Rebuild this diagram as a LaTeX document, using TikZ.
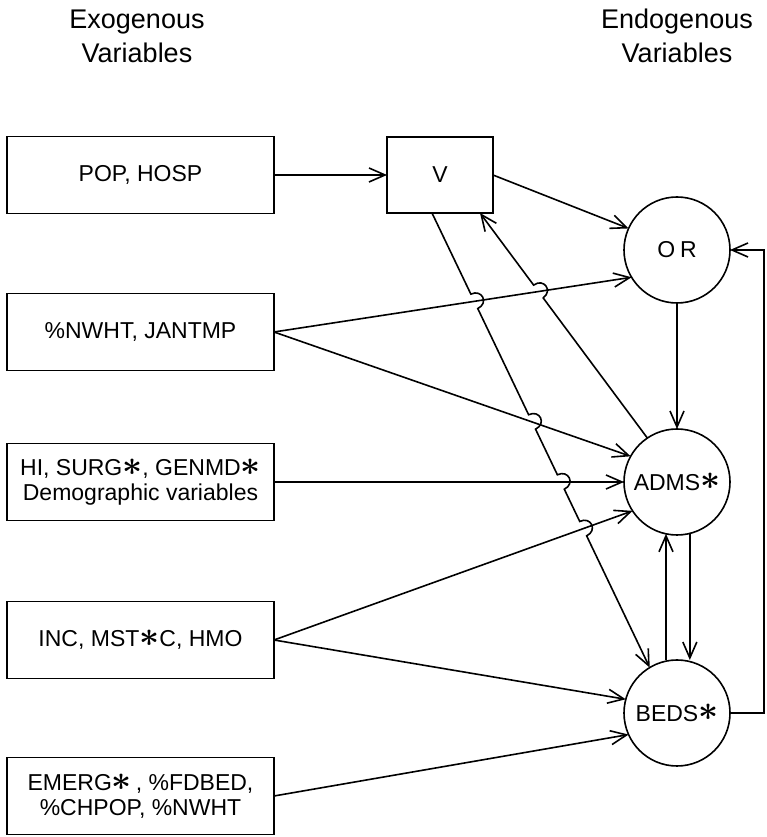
\documentclass[tikz,border=0pt]{standalone}
\usepackage{fontspec}
\setmainfont{Liberation Sans}
\usetikzlibrary{arrows.meta,calc,intersections}
\newcommand{\mstar}{\raisebox{0.02em}{\scalebox{1.4}{\boldmath$\ast$}}}
\begin{document}
\begin{tikzpicture}[x=1pt,y=1pt,line width=1.6pt,inner sep=0pt,outer sep=0pt,
>={Straight Barb[length=16pt,width=14pt]},
varbox/.style={draw,rectangle,minimum width=267pt,minimum height=77pt,align=center,font=\fontsize{23}{25}\selectfont},
endo/.style={draw,circle,minimum size=106pt,font=\fontsize{23}{25}\selectfont},
hdr/.style={align=center,font=\fontsize{27}{34}\selectfont},
hop/.style={bend left=90,looseness=2}]
\useasboundingbox (0,0) rectangle (766,837);
\draw (137,801) node[hdr] (exohdr) {Exogenous\\Variables};
\draw (677,801) node[hdr] (endohdr) {Endogenous\\Variables};
\draw (140.5,662) node[varbox] (pop) {POP, HOSP};
\draw (140.5,505) node[varbox] (nwht) {\%NWHT, JANTMP};
\draw (140.5,355) node[varbox] (hi) {HI, SURG\mstar, GENMD\mstar\\Demographic variables};
\draw (140.5,197) node[varbox] (inc) {INC, MST\mstar C, HMO};
\draw (140.5,41) node[varbox] (emerg) {EMERG\mstar\,, \%FDBED,\\\%CHPOP, \%NWHT};
\draw (440,662) node[draw,rectangle,minimum width=106pt,minimum height=76pt,font=\fontsize{23}{25}\selectfont] (V) {V};
\draw (677,587) node[endo] (OR) {O\kern5pt R};
\draw (677,355) node[endo] (ADMS) {ADMS\mstar};
\draw (677,124) node[endo] (BEDS) {BEDS\mstar};
\draw[->] (pop) -- (V);
\draw[->] (V.east) -- (OR.156);
\draw[->,name path=nwor] (nwht.east) -- (OR.211);
\draw[->,name path=nwad] (nwht.east) -- (ADMS.151);
\draw[->,name path=hiad] (hi.east) -- (ADMS.west);
\draw[->,name path=incad] (inc.east) -- (ADMS.213);
\draw[->] (inc.east) -- (BEDS.165);
\draw[->] (emerg.east) -- (BEDS.204);
\draw[->] (OR) -- (ADMS);
\draw[->] (ADMS.258 |- BEDS.north) -- (ADMS.258);
\draw[->] (ADMS.-76) -- (ADMS.-76 |- BEDS.north);
\draw[->] (BEDS.east) -- ++(34,0) |- (OR.east);
\coordinate (vl) at ([xshift=-8pt]V.south);
\coordinate (vr) at ([xshift=40pt]V.south);
\path[name path=vbeds] (vl) -- (BEDS.121);
\path[name path=vadms] (vr) -- (ADMS.124);
\path[name intersections={of=vbeds and nwor,by=h1}];
\path[name intersections={of=vbeds and nwad,by=h2}];
\path[name intersections={of=vbeds and hiad,by=h3}];
\path[name intersections={of=vbeds and incad,by=h4}];
\path[name intersections={of=vadms and nwor,by=h5}];
\draw[->] (vl) -- ($(h1)!8pt!(vl)$) to[hop] ($(h1)!8pt!(BEDS.121)$)
  -- ($(h2)!8pt!(vl)$) to[hop] ($(h2)!8pt!(BEDS.121)$)
  -- ($(h3)!8pt!(vl)$) to[hop] ($(h3)!8pt!(BEDS.121)$)
  -- ($(h4)!8pt!(vl)$) to[hop] ($(h4)!8pt!(BEDS.121)$)
  -- (BEDS.121);
\draw[<-] (vr) -- ($(h5)!8pt!(vr)$) to[hop] ($(h5)!8pt!(ADMS.124)$) -- (ADMS.124);
\end{tikzpicture}
\end{document}
